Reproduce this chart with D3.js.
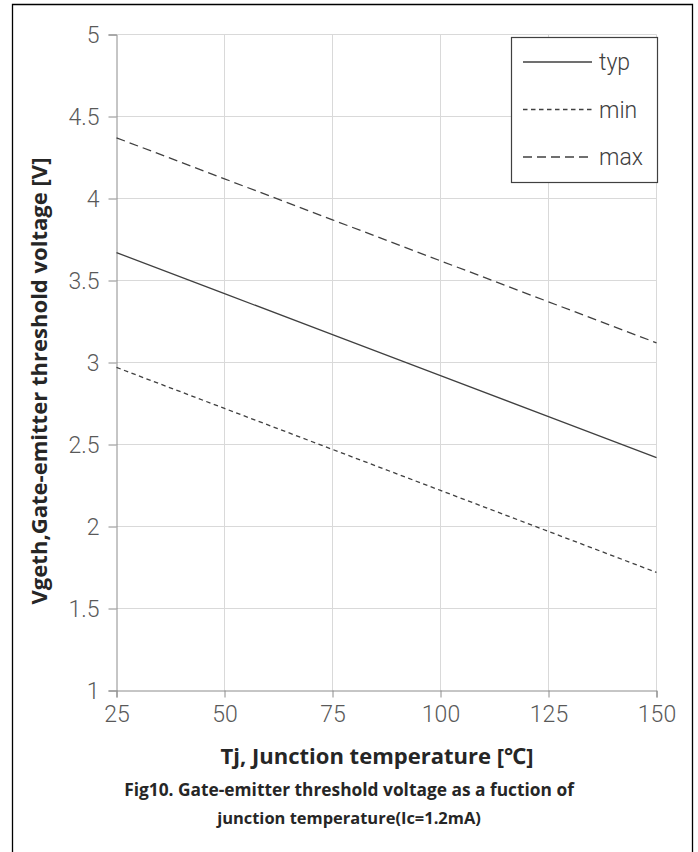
<!DOCTYPE html>
<html>
<head>
<meta charset="utf-8">
<script src="https://cdn.jsdelivr.net/npm/d3@7"></script>
<style>
  body { margin: 0; background: #fff; }
</style>
</head>
<body>
<div id="chart"></div>
<script>
const temps = [25, 50, 75, 100, 125, 150];
const typVals = [3.67, 3.42, 3.17, 2.92, 2.67, 2.42];
const minVals = [2.97, 2.72, 2.47, 2.22, 1.97, 1.72];
const maxVals = [4.37, 4.12, 3.87, 3.62, 3.37, 3.12];
const xTicks = [25, 50, 75, 100, 125, 150];
const yTicks = [1, 1.5, 2, 2.5, 3, 3.5, 4, 4.5, 5];

const series = [
  { name: "typ", values: typVals, dash: null },
  { name: "min", values: minVals, dash: "4.5,3.5" },
  { name: "max", values: maxVals, dash: "9,5" }
];

const width = 698, height = 852;
const svg = d3.select("#chart").append("svg")
  .attr("width", width)
  .attr("height", height);

// outer frame (no bottom edge in the reference)
svg.append("path")
  .attr("d", `M12.5,${height} V4.5 H692.5 V${height}`)
  .attr("fill", "none")
  .attr("stroke", "#000")
  .attr("stroke-width", 1.3);

const x = d3.scaleLinear().domain([25, 150]).range([116.5, 656.5]);
const y = d3.scaleLinear().domain([1, 5]).range([690.5, 34.5]);

const tickFont = "Roboto, 'Noto Sans', sans-serif";

// grid
svg.append("g").selectAll("line.h")
  .data(yTicks.slice(1))
  .join("line")
  .attr("x1", x(25)).attr("x2", x(150))
  .attr("y1", d => y(d)).attr("y2", d => y(d))
  .attr("stroke", "#d9d9d9").attr("stroke-width", 1);

svg.append("g").selectAll("line.v")
  .data(xTicks.slice(1))
  .join("line")
  .attr("x1", d => x(d)).attr("x2", d => x(d))
  .attr("y1", y(5)).attr("y2", y(1))
  .attr("stroke", "#d9d9d9").attr("stroke-width", 1);

// axes
const yAxis = svg.append("g")
  .attr("transform", `translate(${x(25)},0)`)
  .call(d3.axisLeft(y).tickValues(yTicks).tickSize(8).tickPadding(9).tickFormat(d3.format("")));
const xAxis = svg.append("g")
  .attr("transform", `translate(0,${y(1)})`)
  .call(d3.axisBottom(x).tickValues(xTicks).tickSize(7).tickPadding(8).tickFormat(d3.format("")));

[yAxis, xAxis].forEach(a => {
  a.select(".domain").attr("stroke", "#8c8c8c");
  a.selectAll(".tick line").attr("stroke", "#8c8c8c");
  a.selectAll(".tick text")
    .attr("fill", "#595959")
    .attr("font-family", tickFont)
    .attr("font-weight", 300)
    .attr("font-size", 23);
});
yAxis.selectAll(".tick text").attr("dy", "0.35em");

// lines
const line = d3.line()
  .x((d, i) => x(temps[i]))
  .y(d => y(d));

svg.append("g").selectAll("path")
  .data(series)
  .join("path")
  .attr("d", d => line(d.values))
  .attr("fill", "none")
  .attr("stroke", "#404040")
  .attr("stroke-width", 1.3)
  .attr("stroke-dasharray", d => d.dash);

// legend
const legend = svg.append("g");
legend.append("rect")
  .attr("x", 511.5).attr("y", 37.5)
  .attr("width", 146).attr("height", 145)
  .attr("fill", "#fff")
  .attr("stroke", "#404040")
  .attr("stroke-width", 1.2);

const rows = legend.selectAll("g.row")
  .data(series)
  .join("g")
  .attr("transform", (d, i) => `translate(0,${62 + i * 47.5})`);
rows.append("line")
  .attr("x1", 523).attr("x2", 592)
  .attr("stroke", "#404040")
  .attr("stroke-width", 1.3)
  .attr("stroke-dasharray", d => d.dash);
rows.append("text")
  .attr("x", 599)
  .attr("dy", "0.35em")
  .attr("fill", "#404040")
  .attr("font-family", tickFont)
  .attr("font-weight", 300)
  .attr("font-size", 23)
  .text(d => d.name);

// titles, sized to the reference widths
const titleFont = "'Open Sans', 'Noto Sans', sans-serif";
function fit(sel, target) {
  const w = sel.node().getComputedTextLength();
  const fs = +sel.attr("font-size");
  if (w > 0) sel.attr("font-size", (fs * target / w).toFixed(2));
}

const yTitle = svg.append("text")
  .attr("transform", `translate(47,381) rotate(-90)`)
  .attr("text-anchor", "middle")
  .attr("font-family", titleFont)
  .attr("font-weight", 700)
  .attr("font-size", 18)
  .attr("fill", "#262626")
  .text("Vgeth,Gate-emitter threshold voltage [V]");
fit(yTitle, 447);

const xTitle = svg.append("text")
  .attr("x", 377).attr("y", 764)
  .attr("text-anchor", "middle")
  .attr("font-family", titleFont)
  .attr("font-weight", 700)
  .attr("font-size", 18)
  .attr("fill", "#262626")
  .text("Tj, Junction temperature [℃]");
fit(xTitle, 313);

const caption = ["Fig10. Gate-emitter threshold voltage as a fuction of",
                 "junction temperature(Ic=1.2mA)"];
const capWidths = [450, 264];
svg.append("g").selectAll("text")
  .data(caption)
  .join("text")
  .attr("x", 349)
  .attr("y", (d, i) => 796 + i * 28)
  .attr("text-anchor", "middle")
  .attr("font-family", titleFont)
  .attr("font-weight", 700)
  .attr("font-size", 16)
  .attr("fill", "#262626")
  .text(d => d)
  .each(function(d, i) { fit(d3.select(this), capWidths[i]); });
</script>
</body>
</html>
